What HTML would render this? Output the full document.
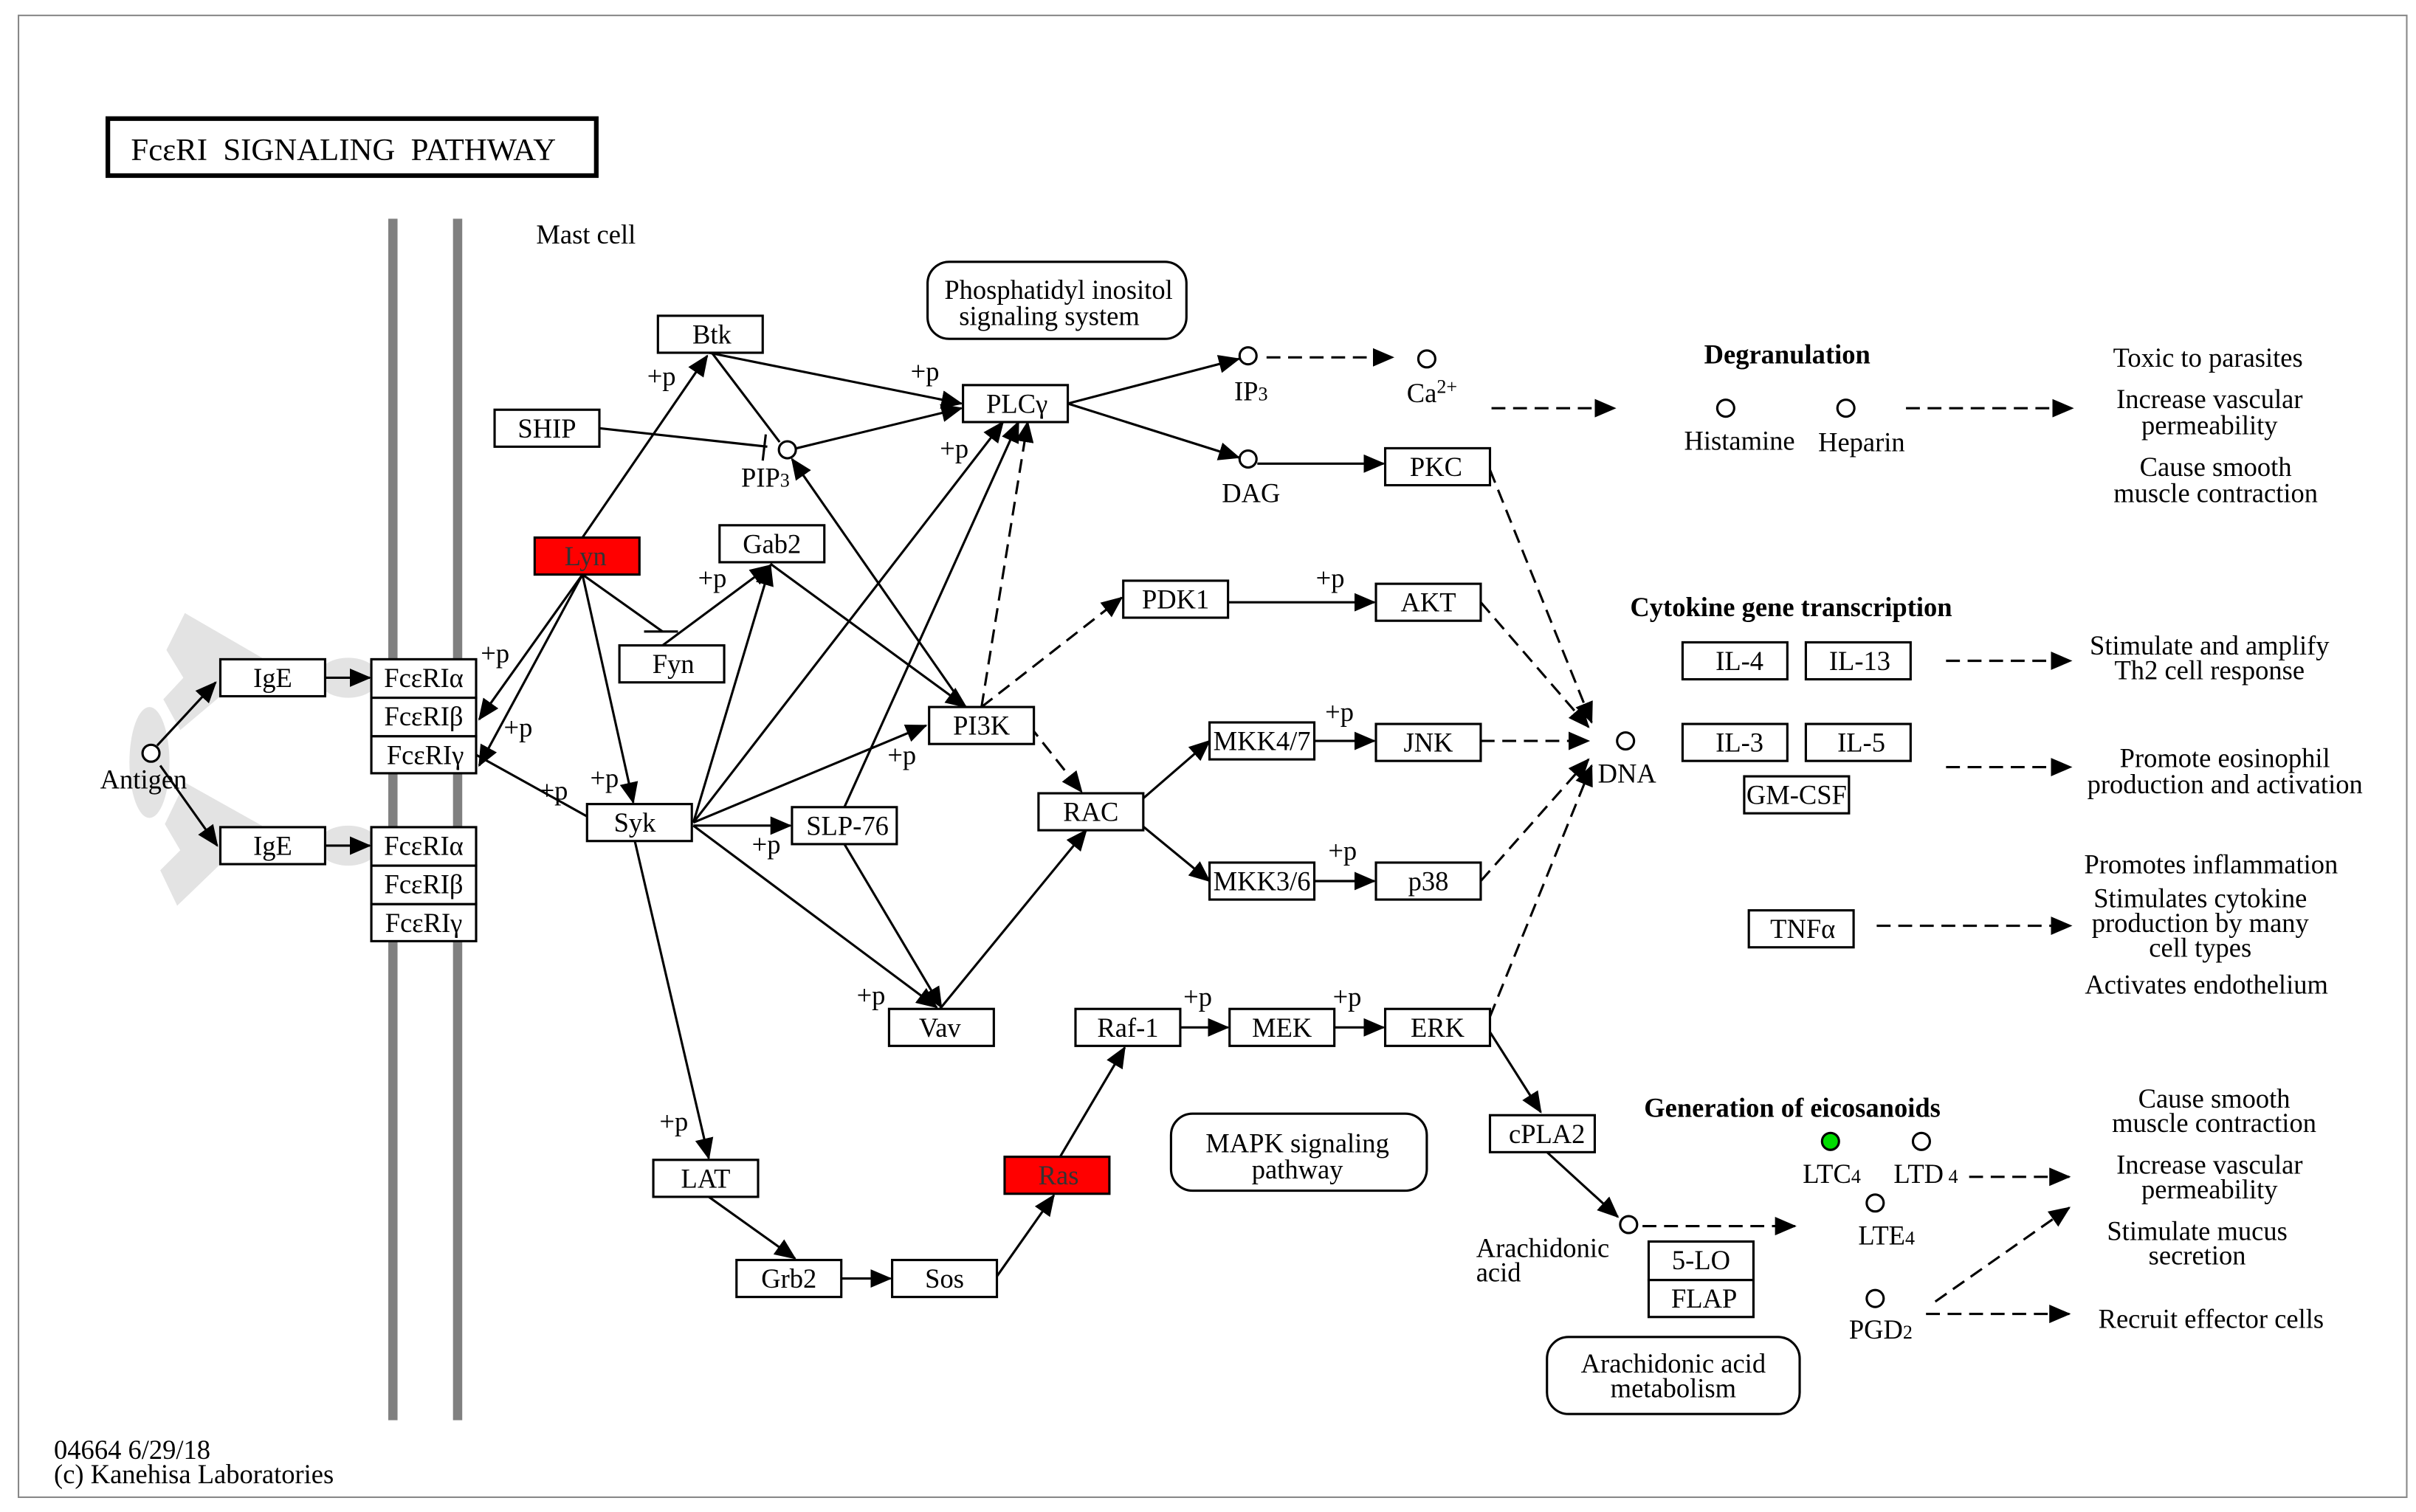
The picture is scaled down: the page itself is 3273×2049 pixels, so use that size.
<!DOCTYPE html>
<html><head><meta charset="utf-8"><style>
html,body{margin:0;padding:0;background:#fff}
svg{display:block}
text{font-family:"Liberation Serif",serif;font-size:17.5px;fill:#000}
.c{text-anchor:middle}
.b{font-weight:bold}
.s{font-size:12.5px}
</style></head><body>
<svg width="3273" height="2049" viewBox="0 0 1568 981.6" preserveAspectRatio="none" xmlns="http://www.w3.org/2000/svg">
<defs>
<marker id="a" markerUnits="userSpaceOnUse" markerWidth="14" markerHeight="12" refX="13" refY="6" orient="auto"><path d="M0,0 L14,6 L0,12 z" fill="#000"/></marker>
</defs>
<rect x="0" y="0" width="1568" height="982" fill="#fff"/>
<rect x="12" y="10" width="1550" height="962" fill="none" stroke="#888" stroke-width="1"/>
<g fill="#e3e3e3">
<path d="M120,398 L170,427 L170,452 L143,452 L117,474 L106,454 L119,440 L108,422 Z"/>
<path d="M120,508 L170,536 L170,561 L143,561 L115,588 L104,565 L117,552 L107,535 Z"/>
<ellipse cx="97" cy="495" rx="13" ry="36"/>
<ellipse cx="226" cy="440" rx="20" ry="13"/>
<ellipse cx="226" cy="549" rx="20" ry="13"/>
</g>
<rect x="70" y="77" width="317" height="37" fill="#fff" stroke="#000" stroke-width="3"/>
<text x="85" y="104" style="font-size:20.5px" xml:space="preserve">FcεRI  SIGNALING  PATHWAY</text>
<rect x="252" y="142" width="6" height="780" fill="#808080"/>
<rect x="294" y="142" width="6" height="780" fill="#808080"/>
<text x="348" y="158">Mast cell</text>

<g stroke="#000" stroke-width="1.5" fill="none">
<line x1="102" y1="484" x2="140" y2="443" marker-end="url(#a)"/>
<line x1="104" y1="497" x2="141" y2="549" marker-end="url(#a)"/>
<line x1="211" y1="440" x2="240" y2="440" marker-end="url(#a)"/>
<line x1="211" y1="549" x2="240" y2="549" marker-end="url(#a)"/>
<line x1="378" y1="349" x2="459" y2="231" marker-end="url(#a)"/>
<line x1="378" y1="373" x2="311" y2="467" marker-end="url(#a)"/>
<line x1="378" y1="373" x2="311" y2="497" marker-end="url(#a)"/>
<line x1="378" y1="373" x2="411" y2="521" marker-end="url(#a)"/>
<line x1="378" y1="373" x2="430" y2="410"/>
<line x1="418" y1="410" x2="440" y2="410"/>
<line x1="309" y1="490" x2="381" y2="530"/>
<line x1="430" y1="419" x2="500" y2="367" marker-end="url(#a)"/>
<line x1="460" y1="229" x2="624" y2="262" marker-end="url(#a)"/>
<line x1="462" y1="229" x2="506" y2="287"/>
<line x1="389" y1="278" x2="498" y2="290"/>
<line x1="497" y1="282" x2="495" y2="299"/>
<line x1="517" y1="291" x2="624" y2="265" marker-end="url(#a)"/>
<line x1="500" y1="366" x2="627" y2="459" marker-end="url(#a)"/>
<line x1="626" y1="459" x2="514" y2="298" marker-end="url(#a)"/>
<line x1="450" y1="534" x2="500" y2="367" marker-end="url(#a)"/>
<line x1="450" y1="534" x2="651" y2="274" marker-end="url(#a)"/>
<line x1="450" y1="534" x2="601" y2="471" marker-end="url(#a)"/>
<line x1="450" y1="536" x2="513" y2="536" marker-end="url(#a)"/>
<line x1="450" y1="536" x2="608" y2="654" marker-end="url(#a)"/>
<line x1="412" y1="546" x2="460" y2="752" marker-end="url(#a)"/>
<line x1="548" y1="524" x2="661" y2="274" marker-end="url(#a)"/>
<line x1="548" y1="548" x2="611" y2="654" marker-end="url(#a)"/>
<line x1="610" y1="655" x2="705" y2="539" marker-end="url(#a)"/>
<line x1="740" y1="520" x2="785" y2="481" marker-end="url(#a)"/>
<line x1="740" y1="535" x2="785" y2="572" marker-end="url(#a)"/>
<line x1="853" y1="481" x2="892" y2="481" marker-end="url(#a)"/>
<line x1="853" y1="572" x2="892" y2="572" marker-end="url(#a)"/>
<line x1="797" y1="391" x2="892" y2="391" marker-end="url(#a)"/>
<line x1="693" y1="262" x2="804" y2="233" marker-end="url(#a)"/>
<line x1="693" y1="262" x2="804" y2="297" marker-end="url(#a)"/>
<line x1="816" y1="301" x2="898" y2="301" marker-end="url(#a)"/>
<line x1="460" y1="777" x2="516" y2="817" marker-end="url(#a)"/>
<line x1="546" y1="830" x2="578" y2="830" marker-end="url(#a)"/>
<line x1="646" y1="830" x2="684" y2="776" marker-end="url(#a)"/>
<line x1="688" y1="751" x2="730" y2="680" marker-end="url(#a)"/>
<line x1="766" y1="667" x2="797" y2="667" marker-end="url(#a)"/>
<line x1="866" y1="667" x2="898" y2="667" marker-end="url(#a)"/>
<line x1="967" y1="670" x2="1000" y2="722" marker-end="url(#a)"/>
<line x1="1004" y1="748" x2="1050" y2="790" marker-end="url(#a)"/>
</g>
<g stroke="#000" stroke-width="1.5" fill="none" stroke-dasharray="9,5">
<line x1="822" y1="232" x2="904" y2="232" marker-end="url(#a)"/>
<line x1="968" y1="265" x2="1048" y2="265" marker-end="url(#a)"/>
<line x1="1237" y1="265" x2="1345" y2="265" marker-end="url(#a)"/>
<line x1="637" y1="459" x2="667" y2="274" marker-end="url(#a)"/>
<line x1="637" y1="459" x2="728" y2="388" marker-end="url(#a)"/>
<line x1="668" y1="471" x2="702" y2="514" marker-end="url(#a)"/>
<line x1="967" y1="305" x2="1033" y2="469" marker-end="url(#a)"/>
<line x1="961" y1="391" x2="1031" y2="472" marker-end="url(#a)"/>
<line x1="961" y1="481" x2="1031" y2="481" marker-end="url(#a)"/>
<line x1="961" y1="572" x2="1031" y2="493" marker-end="url(#a)"/>
<line x1="967" y1="660" x2="1033" y2="497" marker-end="url(#a)"/>
<line x1="1263" y1="429" x2="1344" y2="429" marker-end="url(#a)"/>
<line x1="1263" y1="498" x2="1344" y2="498" marker-end="url(#a)"/>
<line x1="1218" y1="601" x2="1344" y2="601" marker-end="url(#a)"/>
<line x1="1066" y1="796" x2="1165" y2="796" marker-end="url(#a)"/>
<line x1="1278" y1="764" x2="1343" y2="764" marker-end="url(#a)"/>
<line x1="1250" y1="853" x2="1343" y2="853" marker-end="url(#a)"/>
<line x1="1256" y1="845" x2="1343" y2="784" marker-end="url(#a)"/>
</g>

<g>
<text x="420" y="250">+p</text><text x="312" y="430">+p</text><text x="327" y="478">+p</text>
<text x="350" y="519">+p</text><text x="453" y="381">+p</text><text x="591" y="247">+p</text>
<text x="610" y="297">+p</text><text x="383" y="511">+p</text><text x="576" y="496">+p</text>
<text x="488" y="554">+p</text><text x="428" y="734">+p</text><text x="556" y="652">+p</text>
<text x="854" y="381">+p</text><text x="860" y="468">+p</text><text x="862" y="558">+p</text>
<text x="768" y="653">+p</text><text x="865" y="653">+p</text>
</g>

<g stroke="#000" stroke-width="1.5" fill="#fff">
<rect x="143" y="428" width="68" height="24"/><rect x="143" y="537" width="68" height="24"/>
<rect x="241" y="428" width="68" height="25"/><rect x="241" y="453" width="68" height="25"/><rect x="241" y="478" width="68" height="24"/>
<rect x="241" y="537" width="68" height="25"/><rect x="241" y="562" width="68" height="25"/><rect x="241" y="587" width="68" height="24"/>
<rect x="427" y="205" width="68" height="24"/><rect x="321" y="266" width="68" height="24"/>
<rect x="347" y="349" width="68" height="24" fill="#ff0000"/>
<rect x="467" y="341" width="68" height="24"/><rect x="402" y="419" width="68" height="24"/>
<rect x="625" y="250" width="68" height="24"/><rect x="899" y="291" width="68" height="24"/>
<rect x="729" y="377" width="68" height="24"/><rect x="893" y="379" width="68" height="24"/>
<rect x="603" y="459" width="68" height="24"/><rect x="785" y="469" width="68" height="24"/>
<rect x="893" y="470" width="68" height="24"/><rect x="674" y="515" width="68" height="24"/>
<rect x="785" y="560" width="68" height="24"/><rect x="893" y="560" width="68" height="24"/>
<rect x="381" y="522" width="68" height="24"/><rect x="514" y="524" width="68" height="24"/>
<rect x="577" y="655" width="68" height="24"/><rect x="698" y="655" width="68" height="24"/>
<rect x="798" y="655" width="68" height="24"/><rect x="899" y="655" width="68" height="24"/>
<rect x="424" y="753" width="68" height="24"/><rect x="652" y="751" width="68" height="24" fill="#ff0000"/>
<rect x="478" y="818" width="68" height="24"/><rect x="579" y="818" width="68" height="24"/>
<rect x="967" y="724" width="68" height="24"/>
<rect x="1070" y="806" width="68" height="25"/><rect x="1070" y="831" width="68" height="24"/>
<rect x="1092" y="417" width="68" height="24"/><rect x="1172" y="417" width="68" height="24"/>
<rect x="1092" y="470" width="68" height="24"/><rect x="1172" y="470" width="68" height="24"/>
<rect x="1132" y="504" width="68" height="24"/><rect x="1135" y="591" width="68" height="24"/>
<rect x="602" y="170" width="168" height="50" rx="14"/>
<rect x="760" y="723" width="166" height="50" rx="14"/>
<rect x="1004" y="868" width="164" height="50" rx="14"/>
</g>
<g stroke="#000" stroke-width="1.5" fill="#fff">
<circle cx="98" cy="489" r="5.5"/><circle cx="511" cy="292" r="5.5"/>
<circle cx="810" cy="231" r="5.5"/><circle cx="926" cy="233" r="5.5"/>
<circle cx="810" cy="298" r="5.5"/><circle cx="1055" cy="481" r="5.5"/>
<circle cx="1120" cy="265" r="5.5"/><circle cx="1198" cy="265" r="5.5"/>
<circle cx="1057" cy="795" r="5.5"/>
<circle cx="1188" cy="741" r="5.5" fill="#00dd00"/><circle cx="1247" cy="741" r="5.5"/>
<circle cx="1217" cy="781" r="5.5"/><circle cx="1217" cy="843" r="5.5"/>
</g>

<g>
<text class="c" x="177" y="446">IgE</text><text class="c" x="177" y="555">IgE</text>
<text class="c" x="275" y="446">FcεRIα</text><text class="c" x="275" y="471">FcεRIβ</text><text class="c" x="276" y="496">FcεRIγ</text>
<text class="c" x="275" y="555">FcεRIα</text><text class="c" x="275" y="580">FcεRIβ</text><text class="c" x="275" y="605">FcεRIγ</text>
<text class="c" x="462" y="223">Btk</text><text class="c" x="355" y="284">SHIP</text>
<text class="c" x="380" y="367" style="fill:#333">Lyn</text>
<text class="c" x="501" y="359">Gab2</text><text class="c" x="437" y="437">Fyn</text>
<text class="c" x="660" y="268">PLCγ</text><text class="c" x="932" y="309">PKC</text>
<text class="c" x="763" y="395">PDK1</text><text class="c" x="927" y="397">AKT</text>
<text class="c" x="637" y="477">PI3K</text><text class="c" x="819" y="487">MKK4/7</text>
<text class="c" x="927" y="488">JNK</text><text class="c" x="708" y="533">RAC</text>
<text class="c" x="819" y="578">MKK3/6</text><text class="c" x="927" y="578">p38</text>
<text class="c" x="412" y="540">Syk</text><text class="c" x="550" y="542">SLP-76</text>
<text class="c" x="610" y="673">Vav</text><text class="c" x="732" y="673">Raf-1</text>
<text class="c" x="832" y="673">MEK</text><text class="c" x="933" y="673">ERK</text>
<text class="c" x="458" y="771">LAT</text><text class="c" x="687" y="769" style="fill:#333">Ras</text>
<text class="c" x="512" y="836">Grb2</text><text class="c" x="613" y="836">Sos</text>
<text class="c" x="1004" y="742">cPLA2</text>
<text class="c" x="1104" y="824">5-LO</text><text class="c" x="1106" y="849">FLAP</text>
<text class="c" x="1129" y="435">IL-4</text><text class="c" x="1207" y="435">IL-13</text>
<text class="c" x="1129" y="488">IL-3</text><text class="c" x="1208" y="488">IL-5</text>
<text class="c" x="1166" y="522">GM-CSF</text><text class="c" x="1170" y="609">TNFα</text>
<text class="c" x="687" y="194">Phosphatidyl inositol</text><text class="c" x="681" y="211">signaling system</text>
<text class="c" x="842" y="748">MAPK signaling</text><text class="c" x="842" y="765">pathway</text>
<text class="c" x="1086" y="891">Arachidonic acid</text><text class="c" x="1086" y="907">metabolism</text>
</g>
<text x="65" y="512">Antigen</text>
<text x="481" y="316">PIP<tspan class="s">3</tspan></text>
<text x="801" y="260">IP<tspan class="s">3</tspan></text>
<text x="913" y="261">Ca<tspan dy="-6" class="s">2+</tspan></text>
<text x="793" y="326">DAG</text>
<text x="1037" y="508">DNA</text>
<text class="b" x="1106" y="236">Degranulation</text>
<text x="1093" y="292">Histamine</text><text x="1180" y="293">Heparin</text>
<text class="b" x="1058" y="400">Cytokine gene transcription</text>
<text class="b" x="1067" y="725">Generation of eicosanoids</text>
<text x="1170" y="768">LTC<tspan class="s">4</tspan></text>
<text x="1229" y="768">LTD<tspan class="s"> 4</tspan></text>
<text x="1206" y="808">LTE<tspan class="s">4</tspan></text>
<text x="1200" y="869">PGD<tspan class="s">2</tspan></text>
<text x="958" y="816">Arachidonic</text><text x="958" y="832">acid</text>
<g>
<text class="c" x="1433" y="238">Toxic to parasites</text>
<text class="c" x="1434" y="265">Increase vascular</text><text class="c" x="1434" y="282">permeability</text>
<text class="c" x="1438" y="309">Cause smooth</text><text class="c" x="1438" y="326">muscle contraction</text>
<text class="c" x="1434" y="425">Stimulate and amplify</text><text class="c" x="1434" y="441">Th2 cell response</text>
<text class="c" x="1444" y="498">Promote eosinophil</text><text class="c" x="1444" y="515">production and activation</text>
<text class="c" x="1435" y="567">Promotes inflammation</text>
<text class="c" x="1428" y="589">Stimulates cytokine</text><text class="c" x="1428" y="605">production by many</text><text class="c" x="1428" y="621">cell types</text>
<text class="c" x="1432" y="645">Activates endothelium</text>
<text class="c" x="1437" y="719">Cause smooth</text><text class="c" x="1437" y="735">muscle contraction</text>
<text class="c" x="1434" y="762">Increase vascular</text><text class="c" x="1434" y="778">permeability</text>
<text class="c" x="1426" y="805">Stimulate mucus</text><text class="c" x="1426" y="821">secretion</text>
<text class="c" x="1435" y="862">Recruit effector cells</text>
</g>
<text x="35" y="947">04664 6/29/18</text>
<text x="35" y="963">(c) Kanehisa Laboratories</text>
</svg>
</body></html>
